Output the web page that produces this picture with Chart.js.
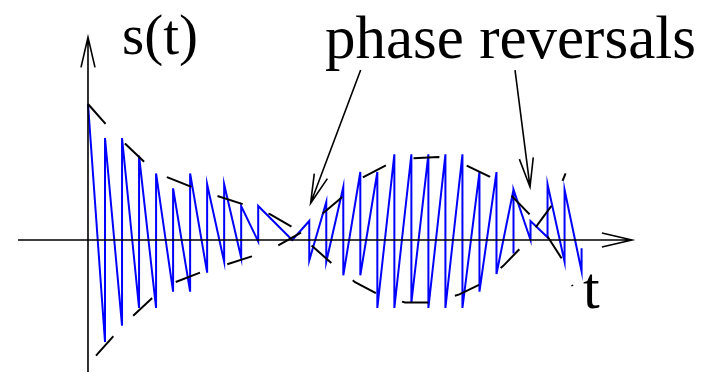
<!DOCTYPE html>
<html>
<head>
<meta charset="utf-8">
<script src="https://cdn.jsdelivr.net/npm/chart.js@4/dist/chart.umd.min.js"></script>
<style>
  html, body { margin: 0; padding: 0; background: #fff; }
  canvas { display: block; }
</style>
</head>
<body>
<canvas id="chart" width="714" height="373"></canvas>
<script>
// Sampled signal: vertices of the polyline (t in sample periods, s normalised)
const signalT = [0, 1, 1, 2, 2, 3, 3, 4, 4, 5, 5, 6, 6, 7, 7, 8, 8, 9, 9, 10, 10, 12,
  13, 13, 14, 14, 15, 15, 16, 16, 17, 17, 18, 18, 19, 19, 20, 20, 21, 21, 22, 22,
  23, 23, 24, 24, 25, 25, 25, 26, 26, 27, 27, 28, 28, 29, 29];
const signalS = [1.00, -0.75, 0.75, -0.63, 0.75, -0.50, 0.62, -0.50, 0.49, -0.38, 0.38,
  -0.38, 0.49, -0.24, 0.41, -0.16, 0.41, -0.13, 0.25, -0.01, 0.25, 0.00,
  0.14, -0.15, 0.28, -0.16, 0.39, -0.26, 0.50, -0.26, 0.50, -0.50, 0.63, -0.50,
  0.63, -0.46, 0.63, -0.50, 0.63, -0.50, 0.63, -0.50, 0.50, -0.38, 0.50, -0.25,
  0.37, -0.10, 0.37, 0.00, 0.14, 0.02, 0.41, -0.16, 0.37, -0.23, -0.06];

// Envelope +a(t): starts on top, crosses to the bottom after the first reversal
const envAT = [0, 1.06, 2.17, 3.35, 4.68, 6.19, 7.70, 9.18, 10.69, 12.06, 13.22, 14.39,
  15.69, 17.06, 18.63, 20.19, 21.82, 23.13, 24.40, 25.48, 26.46, 27.34, 28.06];
const envAS = [1.00, 0.85, 0.71, 0.57, 0.46, 0.385, 0.32, 0.26, 0.19, 0.09, -0.05, -0.18,
  -0.31, -0.40, -0.46, -0.46, -0.40, -0.32, -0.19, -0.05, 0.12, 0.27, 0.49];

// Envelope -a(t)
const envBT = [0.47, 1.47, 2.63, 3.74, 5.13, 6.58, 8.15, 9.62, 11.16, 12.46, 13.75, 14.98,
  16.14, 17.51, 19.02, 20.58, 22.21, 23.62, 24.85, 25.93, 27.03, 27.80, 28.47];
const envBS = [-0.85, -0.71, -0.56, -0.43, -0.31, -0.24, -0.18, -0.12, -0.04, 0.05, 0.19, 0.32,
  0.46, 0.55, 0.60, 0.61, 0.55, 0.465, 0.33, 0.19, 0.02, -0.13, -0.34];

// Axis extents and the two "phase reversals" pointers (start -> tip)
const tAxis = [-4.11, 31.96];
const sAxis = [-0.97, 1.49];
const pointerFrom = [[16.02, 1.25], [25.09, 1.25]];
const pointerTo = [[13.08, 0.27], [25.97, 0.39]];

const toXY = (xs, ys) => xs.map((x, i) => ({ x: x, y: ys[i] }));

function drawArrow(ctx, x0, y0, x1, y1, len, half) {
  const dx = x1 - x0, dy = y1 - y0;
  const d = Math.hypot(dx, dy);
  const ux = dx / d, uy = dy / d;
  const bx = x1 - ux * len, by = y1 - uy * len;
  ctx.beginPath();
  ctx.moveTo(x0, y0);
  ctx.lineTo(x1, y1);
  ctx.moveTo(bx - uy * half, by + ux * half);
  ctx.lineTo(x1, y1);
  ctx.lineTo(bx + uy * half, by - ux * half);
  ctx.stroke();
}

// serif text drawn at a 30px base size and scaled up
function serifText(ctx, text, x, y, size) {
  ctx.save();
  ctx.translate(x, y);
  ctx.scale(size / 30, size / 30);
  ctx.font = "30px 'Liberation Serif'";
  ctx.fillStyle = "#000";
  ctx.textAlign = "left";
  ctx.textBaseline = "alphabetic";
  ctx.fillText(text, 0, 0);
  ctx.restore();
}

const sketch = {
  id: "sketch",
  afterDraw(chart) {
    const ctx = chart.ctx;
    const xs = chart.scales.x, ys = chart.scales.y;
    const px = v => xs.getPixelForValue(v);
    const py = v => ys.getPixelForValue(v);

    ctx.save();
    ctx.strokeStyle = "#000";
    ctx.lineWidth = 1.6;
    ctx.lineCap = "butt";
    ctx.setLineDash([]);
    // axes
    drawArrow(ctx, px(tAxis[0]), py(0), px(tAxis[1]), py(0), 30, 7);
    drawArrow(ctx, px(0), py(sAxis[0]), px(0), py(sAxis[1]), 30, 7);
    // pointers
    pointerFrom.forEach((p, i) => {
      const q = pointerTo[i];
      drawArrow(ctx, px(p[0]), py(p[1]), px(q[0]), py(q[1]), 29, 7);
    });
    ctx.restore();

    // labels
    serifText(ctx, "s(t)", 122, 54, 57);
    serifText(ctx, "phase reversals", 325, 58, 61);
    serifText(ctx, "t", 583, 308, 60);
  }
};

new Chart(document.getElementById("chart"), {
  type: "scatter",
  data: {
    datasets: [
      {
        data: toXY(envAT, envAS),
        showLine: true,
        borderColor: "#000",
        borderWidth: 2,
        borderDash: [26.5, 27.5],
        tension: 0,
        pointRadius: 0
      },
      {
        data: toXY(envBT, envBS),
        showLine: true,
        borderColor: "#000",
        borderWidth: 2,
        borderDash: [26, 28.5],
        tension: 0,
        pointRadius: 0
      },
      {
        data: toXY(signalT, signalS),
        showLine: true,
        borderColor: "#0000ff",
        borderWidth: 2,
        tension: 0,
        pointRadius: 0
      }
    ]
  },
  options: {
    responsive: false,
    animation: false,
    events: [],
    layout: { padding: 0 },
    plugins: {
      legend: { display: false },
      tooltip: { enabled: false }
    },
    scales: {
      x: { type: "linear", display: false, min: -5.17, max: 36.78 },
      y: { type: "linear", display: false, min: -0.978, max: 1.765 }
    }
  },
  plugins: [sketch]
});
</script>
</body>
</html>
